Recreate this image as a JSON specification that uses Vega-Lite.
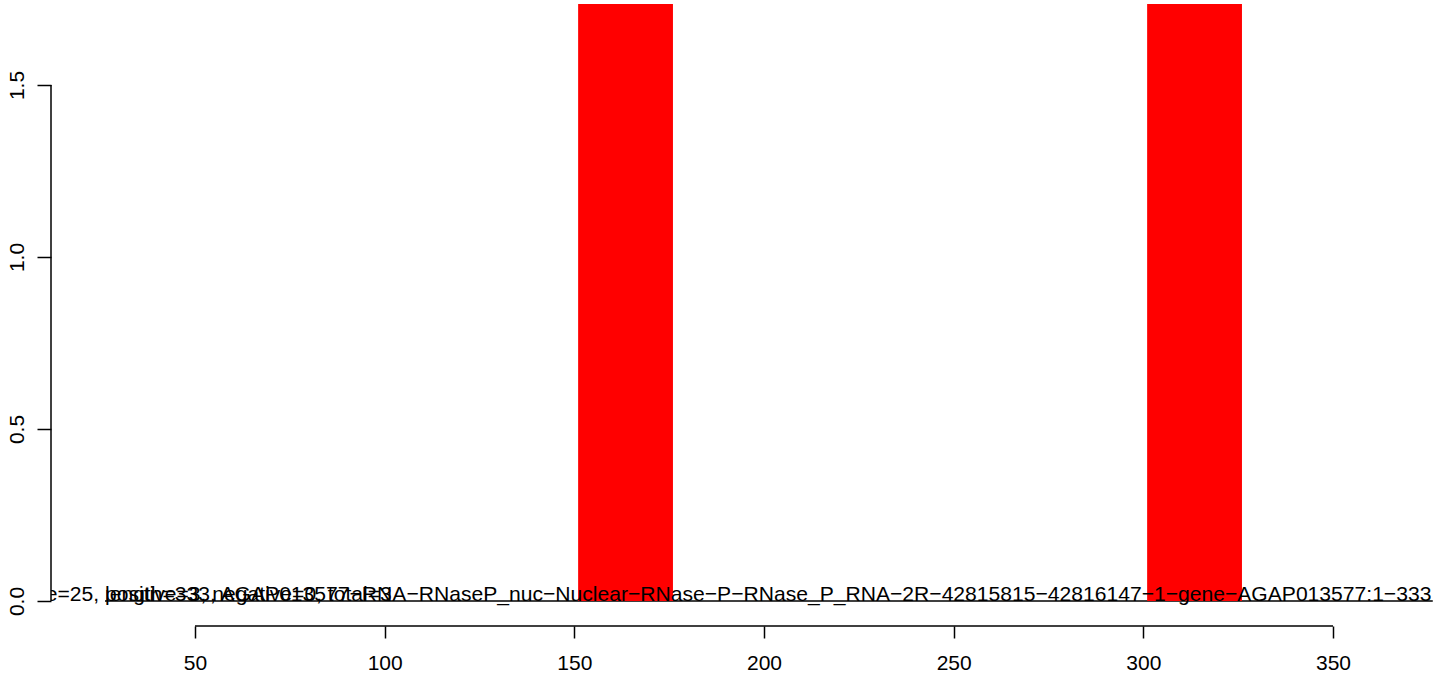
{
  "$schema": "https://vega.github.io/schema/vega-lite/v6.json",
  "autosize": {"type": "none"},
  "width": 1382,
  "height": 622,
  "padding": {"left": 51, "top": 4, "right": 11, "bottom": 50},
  "background": "white",
  "config": {
    "view": {"stroke": null},
    "font": "Liberation Sans",
    "axis": {"labelFont": "Liberation Sans", "labelFontSize": 21, "labelColor": "black", "tickColor": "black", "tickWidth": 1.5, "domain": false, "grid": false, "title": null}
  },
  "datasets": {
    "bars": [
      {"start": 151, "end": 176, "base": 0, "value": 2},
      {"start": 301, "end": 326, "base": 0, "value": 2}
    ],
    "labels": [
      {"pos": 3.87, "level": 0, "label": "size=25, positive=3, negative=0, total=3"},
      {"pos": 26.27, "level": 0, "label": "length=333, AGAP013577−RNA−RNaseP_nuc−Nuclear−RNase−P−RNase_P_RNA−2R−42815815−42816147−1−gene−AGAP013577:1−333"}
    ],
    "zeroline": [{"from": 26.27, "to": 376.3, "level": 0}],
    "xaxisline": [{"from": 50, "to": 350, "level": -0.0727}],
    "yaxisline": [{"xpos": 12.04, "from": 0, "to": 1.5}]
  },
  "layer": [
    {
      "data": {"name": "zeroline"},
      "mark": {"type": "rule", "color": "black", "strokeWidth": 1.5},
      "encoding": {
        "x": {"field": "from", "type": "quantitative", "scale": {"domain": [12.04, 376.36], "nice": false, "zero": false}, "axis": {"values": [50, 100, 150, 200, 250, 300, 350], "tickSize": 12, "labelPadding": 14, "format": "d"}},
        "x2": {"field": "to"},
        "y": {"field": "level", "type": "quantitative", "scale": {"domain": [-0.0727, 1.7355], "nice": false, "zero": false}, "axis": {"values": [0, 0.5, 1, 1.5], "format": ".1f", "tickSize": 14, "labelAngle": 270, "labelAlign": "center", "labelBaseline": "bottom", "labelPadding": 10}}
      }
    },
    {
      "data": {"name": "bars"},
      "mark": {"type": "rect", "color": "#ff0000", "clip": true},
      "encoding": {
        "x": {"field": "start", "type": "quantitative"},
        "x2": {"field": "end"},
        "y": {"field": "base", "type": "quantitative"},
        "y2": {"field": "value"}
      }
    },
    {
      "data": {"name": "labels"},
      "mark": {"type": "text", "align": "left", "baseline": "alphabetic", "fontSize": 21.1, "font": "Liberation Sans", "color": "black", "clip": true},
      "encoding": {
        "x": {"field": "pos", "type": "quantitative"},
        "y": {"field": "level", "type": "quantitative"},
        "text": {"field": "label", "type": "nominal"}
      }
    },
    {
      "data": {"name": "xaxisline"},
      "mark": {"type": "rule", "color": "black", "strokeWidth": 1.5},
      "encoding": {
        "x": {"field": "from", "type": "quantitative"},
        "x2": {"field": "to"},
        "y": {"field": "level", "type": "quantitative"}
      }
    },
    {
      "data": {"name": "yaxisline"},
      "mark": {"type": "rule", "color": "black", "strokeWidth": 1.5},
      "encoding": {
        "x": {"field": "xpos", "type": "quantitative"},
        "y": {"field": "from", "type": "quantitative"},
        "y2": {"field": "to"}
      }
    }
  ]
}
